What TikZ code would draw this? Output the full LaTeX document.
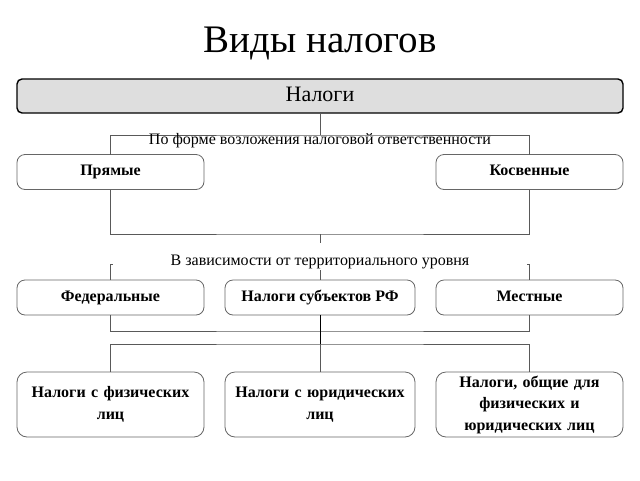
\documentclass[tikz,border=0pt]{standalone}
\usepackage{fontspec}
\setmainfont{Liberation Serif}
\begin{document}
\begin{tikzpicture}[x=1pt,y=-1pt,
  every node/.style={inner sep=0pt, outer sep=0pt},
  topbox/.style={draw=black, line width=1.4pt, fill=black!13, rounded corners=5pt,
    minimum width=606pt, minimum height=34pt, text height=15pt, text depth=4pt,
    font=\fontsize{22}{24}\selectfont},
  catbox/.style={draw=black!60, line width=0.8pt, fill=white, rounded corners=8pt,
    minimum height=35pt, text height=11pt, text depth=3.5pt,
    font=\fontsize{16}{18}\selectfont\bfseries, align=center},
  bigbox/.style={draw=black!60, line width=0.8pt, fill=white, rounded corners=10pt,
    minimum height=65pt, font=\fontsize{16}{21.5}\selectfont\bfseries, align=center},
  conn/.style={draw=black!65, line width=0.8pt},
  trunk/.style={draw=black, line width=1pt},
  lbl/.style={font=\fontsize{16}{18}\selectfont}
]
\useasboundingbox (0,0) rectangle (640,480);

\node[font=\fontsize{39}{44}\selectfont] (title) at (320,43) {Виды налогов};

\node[topbox] (top) at (320,96) {Налоги};

\node[catbox, minimum width=187pt] (pr) at (110.5,172) {Прямые};
\node[catbox, minimum width=187pt] (kos) at (529.5,172) {Косвенные};

\node[catbox, minimum width=187pt] (fed) at (110.5,297.5) {Федеральные};
\node[catbox, minimum width=190pt] (sub) at (320,297.5) {Налоги субъектов РФ};
\node[catbox, minimum width=187pt] (mest) at (529.5,297.5) {Местные};

\node[bigbox, minimum width=187pt, text width=180pt] (fiz) at (110.5,404.5) {Налоги с физических\\лиц};
\node[bigbox, minimum width=190pt, text width=183pt] (yur) at (320,404.5) {Налоги с юридических\\лиц};
\node[bigbox, minimum width=187pt, text width=180pt] (obsh) at (529.5,404.5) {Налоги, общие для\\физических и\\юридических лиц};

\coordinate (b1) at (320,135);
\coordinate (b2) at (320,234);
\coordinate (b3) at (320,264);
\coordinate (b4) at (320,331);
\coordinate (b5) at (320,344);

\draw[conn] (top.south) -- (b1);
\draw[conn] (pr.north) |- (b1) -| (kos.north);
\draw[conn] (pr.south) |- (b2) -| (kos.south);
\draw[conn] (b2) -- (b3);
\draw[conn] (fed.north) |- (b3) -| (mest.north);
\draw[conn] (b3) -- (sub.north);
\draw[conn] (fed.south) |- (b4) -| (mest.south);
\draw[trunk] (sub.south) -- (b4);
\draw[trunk] (b4) -- (b5);
\draw[conn] (fiz.north) |- (b5) -| (obsh.north);
\draw[conn] (b5) -- (yur.north);

\node[lbl, anchor=base] (l1) at (320,144) {По форме возложения налоговой ответственности};
\node[lbl, fill=white, minimum width=414pt, minimum height=27pt] (l2box) at (320,256.5) {};
\node[lbl, anchor=base] (l2) at (320,265) {В зависимости от территориального уровня};
\end{tikzpicture}
\end{document}
